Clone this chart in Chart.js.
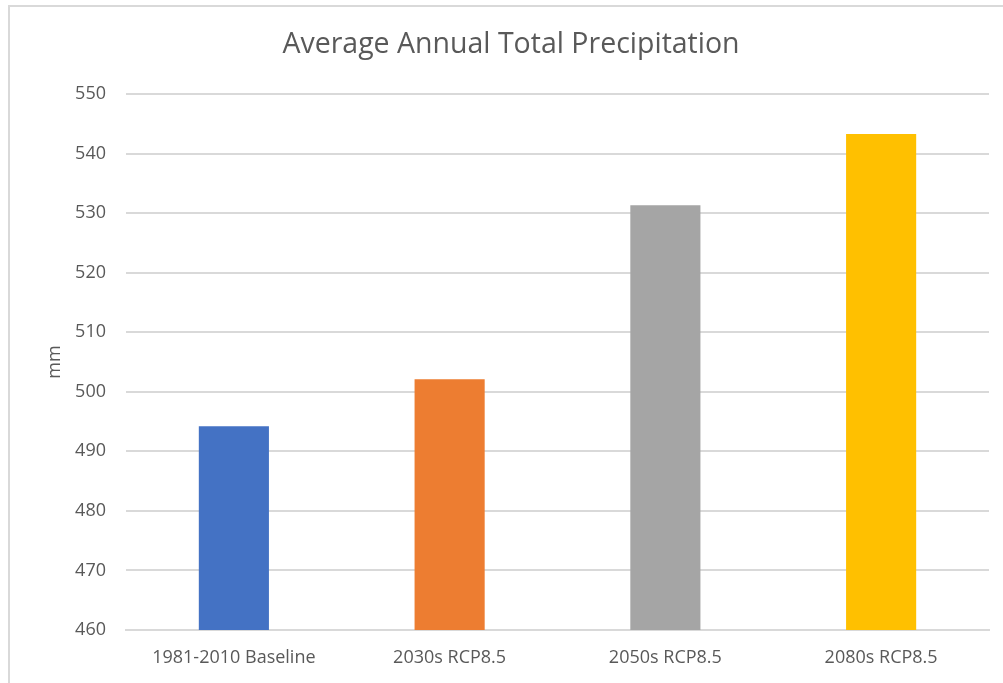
<!DOCTYPE html>
<html>
<head>
<meta charset="utf-8">
<script src="https://cdn.jsdelivr.net/npm/chart.js@4/dist/chart.umd.min.js"></script>
<style>
  html, body { margin: 0; padding: 0; background: #ffffff; }
  #frame {
    position: absolute; left: 8px; top: 5px; width: 1100px; height: 800px;
    border-top: 2px solid #d9d9d9; border-left: 2px solid #d9d9d9;
  }
  #wrap { position: absolute; left: 0; top: 0; width: 1003px; height: 683px; }
</style>
</head>
<body>
<div id="frame"></div>
<div id="wrap"><canvas id="chart" width="1003" height="683"></canvas></div>
<script>
// Average annual total precipitation (mm) by period
const categories = ['1981-2010 Baseline', '2030s RCP8.5', '2050s RCP8.5', '2080s RCP8.5'];
const precipitation = [494.2, 502.1, 531.3, 543.3];
const barColors = ['#4472C4', '#ED7D31', '#A5A5A5', '#FFC000'];
const yMin = 460;
const yMax = 550;
const yStep = 10;

const FONT = "'Open Sans', 'DejaVu Sans', sans-serif";
const TEXT = '#595959';

new Chart(document.getElementById('chart'), {
  type: 'bar',
  data: {
    labels: categories,
    datasets: [{
      data: precipitation,
      backgroundColor: barColors,
      borderWidth: 0,
      categoryPercentage: 1.0,
      barPercentage: 0.325
    }]
  },
  options: {
    responsive: false,
    animation: false,
    layout: { padding: { left: 33, right: 14, top: 0, bottom: 0 } },
    plugins: {
      legend: { display: false },
      tooltip: { enabled: false },
      title: {
        display: true,
        text: 'Average Annual Total Precipitation',
        color: TEXT,
        font: { family: FONT, size: 28.5, weight: 400 },
        padding: { top: 28, bottom: 31.8 }
      }
    },
    scales: {
      x: {
        grid: { display: false, drawTicks: false },
        border: { display: true, color: '#d9d9d9', width: 2 },
        ticks: { color: TEXT, font: { family: FONT, size: 18 }, padding: 17 },
        afterFit: (scale) => { scale.height = 53; }
      },
      y: {
        min: yMin,
        max: yMax,
        grid: { color: '#d9d9d9', lineWidth: 2, drawTicks: false },
        border: { display: false },
        ticks: {
          stepSize: yStep,
          color: TEXT,
          font: { family: FONT, size: 18 },
          padding: 20
        },
        title: {
          display: true,
          text: 'mm',
          color: TEXT,
          font: { family: FONT, size: 18 },
          padding: { top: 11, bottom: 0 }
        },
        afterFit: (scale) => { scale.width = 93; }
      }
    }
  }
});
</script>
</body>
</html>
